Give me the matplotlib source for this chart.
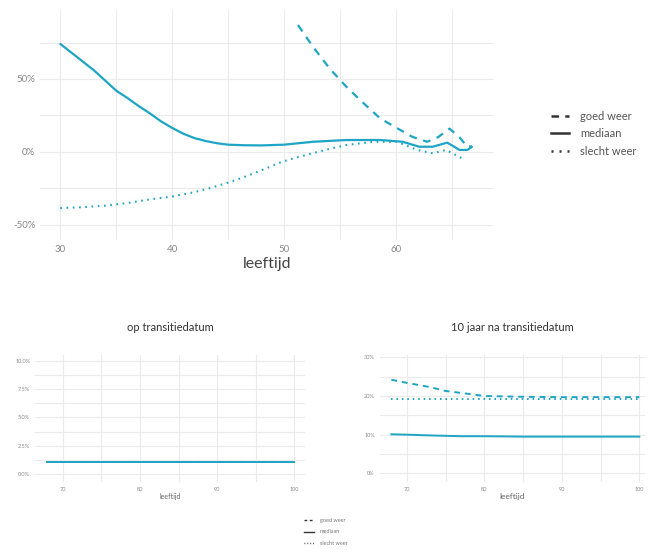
import matplotlib
matplotlib.use("Agg")
import matplotlib.pyplot as plt
from matplotlib.lines import Line2D
from matplotlib.ticker import FuncFormatter, MultipleLocator

plt.rcParams['font.family'] = ['Lato', 'DejaVu Sans']

kleur = '#1ea5c6'
grid_kleur = '#ebebeb'

# bovenste grafiek: verschil t.o.v. basis, per leeftijd
med_leeftijd = [30, 31, 32, 33, 34, 35, 36, 37, 38, 39, 40, 41, 42, 43, 44, 45,
                46.5, 48, 50, 52.6, 55.6, 58.6, 60.6, 62.1, 63.3, 64.6, 65.7,
                66.4, 66.8]
mediaan = [74, 68, 62, 56, 49, 42, 37, 31.5, 26.5, 21, 16.5, 12.5, 9.5, 7.5, 6, 5,
           4.6, 4.5, 5, 7, 8.2, 8.2, 7, 3.6, 3.6, 6.4, 1.4,
           1.4, 3.5]

goed_leeftijd = [51.25, 52.6, 54.1, 55.6, 57.1, 58.6, 60.1, 61.5, 62.8, 63.75,
                 64.8, 65.7, 66.4, 66.8]
goed_weer = [87, 72, 57, 44.5, 33.5, 23, 16.4, 10.3, 7, 10,
             16, 10, 3.5, 4]

slecht_leeftijd = [30, 32, 34, 36, 38, 40, 42, 43.5, 45, 46.5, 48, 49.8, 51,
                   52.5, 54, 55.6, 58, 60.1, 61.9, 63.3, 64.5, 65.9]
slecht_weer = [-38.4, -37.8, -36.8, -35, -32.5, -30.5, -27.5, -24.5, -21, -17,
               -12.5, -6.8, -4, -1, 2, 4.8, 7, 7, 1.4, -0.9, 1.4, -4.3]

# onderste grafieken
links_leeftijd = [68, 70, 75, 80, 85, 90, 95, 100]
links_goed = [1.1, 1.1, 1.1, 1.1, 1.1, 1.1, 1.1, 1.1]
links_mediaan = [1.1, 1.1, 1.1, 1.1, 1.1, 1.1, 1.1, 1.1]
links_slecht = [1.1, 1.1, 1.1, 1.1, 1.1, 1.1, 1.1, 1.1]

rechts_leeftijd = [68, 70, 73, 75, 77, 80, 85, 90, 95, 100]
rechts_goed = [24.2, 23.4, 22.3, 21.3, 20.8, 20.0, 19.8, 19.7, 19.7, 19.7]
rechts_mediaan = [10.1, 10.0, 9.8, 9.7, 9.6, 9.6, 9.5, 9.5, 9.5, 9.5]
rechts_slecht = [19.3, 19.3, 19.3, 19.3, 19.3, 19.3, 19.3, 19.3, 19.3, 19.3]

namen = ['goed weer', 'mediaan', 'slecht weer']


def opmaak(ax, tick_size):
    for s in ax.spines.values():
        s.set_visible(False)
    ax.grid(True, which='both', color=grid_kleur, linewidth=0.8)
    ax.set_axisbelow(True)
    ax.tick_params(which='both', length=0, labelsize=tick_size, colors='#888888')


fig = plt.figure(figsize=(6.48, 5.53), dpi=100)

# --- bovenste grafiek ---
ax = fig.add_axes([0.062, 0.566, 0.699, 0.416])
opmaak(ax, 7)
ax.plot(med_leeftijd, mediaan, color=kleur, lw=1.6, solid_capstyle='round')
ax.plot(goed_leeftijd, goed_weer, color=kleur, lw=1.6, dashes=(3.5, 3))
ax.plot(slecht_leeftijd, slecht_weer, color=kleur, lw=1.5, dashes=(0.8, 2.2))
ax.set_xlim(28.2, 68.7)
ax.set_ylim(-60.3, 97.3)
ax.xaxis.set_major_locator(MultipleLocator(10))
ax.xaxis.set_minor_locator(MultipleLocator(5))
ax.yaxis.set_major_locator(MultipleLocator(50))
ax.yaxis.set_minor_locator(MultipleLocator(25))
ax.yaxis.set_major_formatter(FuncFormatter(lambda v, p: f'{v:.0f}%'))
ax.set_xlabel('leeftijd', fontsize=11.5, color='#444444', labelpad=2)

grepen = [Line2D([], [], color='#333333', lw=1.8, dashes=(3, 2.5)),
          Line2D([], [], color='#333333', lw=1.8),
          Line2D([], [], color='#333333', lw=1.8, dashes=(0.8, 2.4))]
fig.legend(grepen, namen, loc='center left', bbox_to_anchor=(0.835, 0.758),
           frameon=False, fontsize=8, labelcolor='#555555', handlelength=1.6,
           handletextpad=1.0, labelspacing=0.6)

# --- onder links ---
ax1 = fig.add_axes([0.054, 0.128, 0.417, 0.23])
opmaak(ax1, 4)
ax1.plot(links_leeftijd, links_goed, color=kleur, lw=1.4, dashes=(3, 2.5))
ax1.plot(links_leeftijd, links_slecht, color=kleur, lw=1.4, dashes=(0.8, 2))
ax1.plot(links_leeftijd, links_mediaan, color=kleur, lw=1.4)
ax1.set_xlim(66.4, 101.4)
ax1.set_ylim(-0.7, 10.5)
ax1.xaxis.set_major_locator(MultipleLocator(10))
ax1.xaxis.set_minor_locator(MultipleLocator(5))
ax1.yaxis.set_major_locator(MultipleLocator(2.5))
ax1.yaxis.set_minor_locator(MultipleLocator(1.25))
ax1.yaxis.set_major_formatter(FuncFormatter(lambda v, p: f'{v:.1f}%'))
ax1.set_xlabel('leeftijd', fontsize=5, color='#666666', labelpad=1)
ax1.set_title('op transitiedatum', fontsize=8, color='#333333', pad=17)

# --- onder rechts ---
ax2 = fig.add_axes([0.586, 0.128, 0.409, 0.23])
opmaak(ax2, 4)
ax2.plot(rechts_leeftijd, rechts_goed, color=kleur, lw=1.4, dashes=(3, 2.5))
ax2.plot(rechts_leeftijd, rechts_slecht, color=kleur, lw=1.4, dashes=(0.8, 2))
ax2.plot(rechts_leeftijd, rechts_mediaan, color=kleur, lw=1.4)
ax2.set_xlim(66.5, 100.7)
ax2.set_ylim(-2.3, 30.6)
ax2.xaxis.set_major_locator(MultipleLocator(10))
ax2.xaxis.set_minor_locator(MultipleLocator(5))
ax2.yaxis.set_major_locator(MultipleLocator(10))
ax2.yaxis.set_minor_locator(MultipleLocator(5))
ax2.yaxis.set_major_formatter(FuncFormatter(lambda v, p: f'{v:.0f}%'))
ax2.set_xlabel('leeftijd', fontsize=6, color='#666666', labelpad=1)
ax2.set_title('10 jaar na transitiedatum', fontsize=8, color='#333333', pad=17)

grepen2 = [Line2D([], [], color='#333333', lw=1.0, dashes=(2, 1.8)),
           Line2D([], [], color='#333333', lw=1.0),
           Line2D([], [], color='#333333', lw=1.0, dashes=(0.6, 1.5))]
fig.legend(grepen2, namen, loc='center left', bbox_to_anchor=(0.462, 0.038),
           frameon=False, fontsize=4, labelcolor='#777777', handlelength=1.8,
           handletextpad=1.0, labelspacing=1.2)

fig.savefig('out.png', dpi=100, facecolor='white')
